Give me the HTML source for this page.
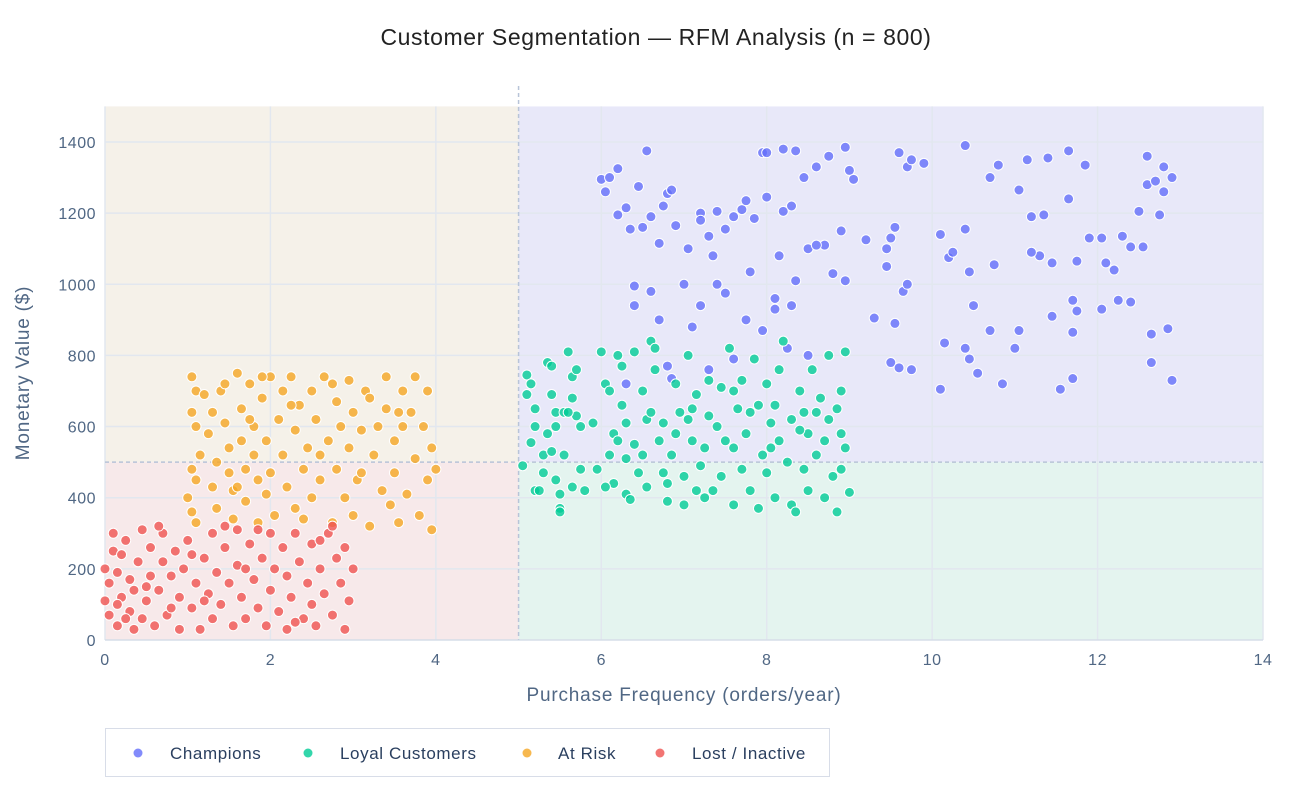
<!DOCTYPE html>
<html><head><meta charset="utf-8"><style>
body{margin:0;background:#fff;font-family:"Liberation Sans",sans-serif;}
svg text{font-family:"Liberation Sans",sans-serif;}
</style></head><body>
<svg id="chart" width="1312" height="800" xmlns="http://www.w3.org/2000/svg">
<text x="656" y="45" text-anchor="middle" font-size="23" letter-spacing="0.6" fill="#222">Customer Segmentation — RFM Analysis (n = 800)</text>
<g id="bg"></g><g id="grid"></g><g id="marks"></g><g id="axes"></g>
<text x="684" y="701" text-anchor="middle" font-size="19" letter-spacing="0.8" fill="#506784">Purchase Frequency (orders/year)</text>
<text transform="translate(29,373) rotate(-90)" text-anchor="middle" font-size="19" letter-spacing="0.8" fill="#506784">Monetary Value ($)</text>
<g>
<rect x="105.5" y="728.5" width="724" height="48" fill="#fff" stroke="#d8dde8"/>
<g><circle cx="138" cy="753" r="4.5" fill="#636efa" opacity="0.8"/><text x="170" y="759" font-size="17" letter-spacing="0.6" fill="#2a3f5f">Champions</text></g>
<g><circle cx="308" cy="753" r="4.5" fill="#00cc96" opacity="0.8"/><text x="340" y="759" font-size="17" letter-spacing="0.6" fill="#2a3f5f">Loyal Customers</text></g>
<g><circle cx="527" cy="753" r="4.5" fill="#f5a623" opacity="0.8"/><text x="558" y="759" font-size="17" letter-spacing="0.6" fill="#2a3f5f">At Risk</text></g>
<g><circle cx="660" cy="753" r="4.5" fill="#ef5350" opacity="0.8"/><text x="692" y="759" font-size="17" letter-spacing="0.6" fill="#2a3f5f">Lost / Inactive</text></g>
</g>
</svg>
<script>
const xTicks=[0,2,4,6,8,10,12,14];
const yTicks=[0,200,400,600,800,1000,1200,1400];
const champions=[[6.0,1295],[6.1,1300],[6.2,1325],[6.05,1260],[6.2,1195],[6.3,1215],[6.35,1155],[6.45,1275],[6.55,1375],[6.5,1160],[6.6,1190],[6.8,1255],[6.85,1265],[6.75,1220],[6.9,1165],[6.7,1115],[7.05,1100],[7.2,1200],[7.3,1135],[7.5,1155],[7.6,1190],[7.7,1210],[7.75,1235],[7.85,1185],[7.95,1370],[8.0,1370],[8.2,1380],[8.35,1375],[8.2,1205],[8.3,1220],[8.45,1300],[8.6,1330],[8.75,1360],[8.95,1385],[9.0,1320],[9.05,1295],[9.2,1125],[8.0,1245],[8.15,1080],[8.5,1100],[8.7,1110],[8.9,1150],[9.6,1370],[9.7,1330],[9.75,1350],[9.9,1340],[9.55,1160],[9.5,1130],[9.45,1100],[9.45,1050],[9.3,905],[9.55,890],[9.65,980],[9.7,1000],[9.5,780],[9.6,765],[9.75,760],[10.1,1140],[10.2,1075],[10.25,1090],[10.4,1390],[10.4,1155],[10.45,1035],[10.5,940],[10.15,835],[10.4,820],[10.45,790],[10.55,750],[10.1,705],[10.7,870],[10.75,1055],[10.7,1300],[10.8,1335],[10.85,720],[11.0,820],[11.05,870],[11.05,1265],[11.15,1350],[11.2,1190],[11.35,1195],[11.4,1355],[11.3,1080],[11.45,1060],[11.2,1090],[11.45,910],[11.55,705],[11.7,735],[11.7,865],[11.7,955],[11.75,925],[11.75,1065],[11.65,1375],[11.65,1240],[11.85,1335],[11.9,1130],[12.05,1130],[12.1,1060],[12.05,930],[12.2,1040],[12.25,955],[12.3,1135],[12.4,950],[12.4,1105],[12.5,1205],[12.6,1280],[12.6,1360],[12.7,1290],[12.65,860],[12.65,780],[12.8,1330],[12.8,1260],[12.75,1195],[12.85,875],[12.9,1300],[12.9,730],[12.55,1105],[6.6,980],[6.4,995],[6.4,940],[6.7,900],[7.0,1000],[7.2,940],[7.1,880],[7.35,1080],[7.4,1000],[7.5,975],[7.8,1035],[8.35,1010],[8.3,940],[8.1,960],[8.8,1030],[8.95,1010],[7.75,900],[8.25,820],[7.95,870],[8.1,930],[7.6,790],[8.5,800],[7.3,760],[6.8,770],[6.3,720],[6.85,735],[7.2,1180],[7.4,1205],[8.6,1110]];
const loyal=[[5.05,490],[5.1,690],[5.1,745],[5.15,720],[5.2,650],[5.2,600],[5.15,555],[5.2,420],[5.25,420],[5.3,520],[5.35,780],[5.4,770],[5.4,690],[5.45,640],[5.45,600],[5.35,580],[5.4,530],[5.45,450],[5.5,410],[5.5,370],[5.5,360],[5.55,640],[5.6,810],[5.65,740],[5.7,760],[5.65,680],[5.7,630],[5.75,600],[5.75,480],[5.8,420],[5.65,430],[5.55,520],[5.95,480],[6.0,810],[6.05,720],[6.1,700],[6.1,520],[6.15,580],[6.15,440],[6.2,800],[6.25,770],[6.25,660],[6.3,610],[6.3,510],[6.3,410],[6.35,395],[6.4,810],[6.4,550],[6.45,470],[6.5,700],[6.55,620],[6.55,430],[6.6,840],[6.6,640],[6.65,820],[6.65,760],[6.7,560],[6.75,470],[6.8,440],[6.8,390],[6.85,520],[6.9,720],[6.95,640],[7.0,460],[7.0,380],[7.05,800],[7.05,620],[7.1,560],[7.15,420],[7.15,690],[7.2,490],[7.25,540],[7.3,630],[7.3,730],[7.35,420],[7.4,600],[7.45,460],[7.5,560],[7.55,820],[7.6,380],[7.6,540],[7.65,650],[7.7,730],[7.7,480],[7.75,580],[7.8,420],[7.85,790],[7.9,370],[7.9,660],[7.95,520],[8.0,720],[8.0,470],[8.05,610],[8.1,400],[8.15,760],[8.15,560],[8.2,840],[8.25,500],[8.3,380],[8.3,620],[8.35,360],[8.4,700],[8.45,480],[8.5,580],[8.5,420],[8.55,760],[8.6,520],[8.65,680],[8.7,560],[8.7,400],[8.75,800],[8.75,620],[8.8,460],[8.85,360],[8.85,650],[8.9,700],[8.9,480],[8.95,540],[8.95,810],[9.0,415],[8.9,580],[8.6,640],[8.4,590],[8.1,660],[7.8,640],[7.45,710],[7.1,650],[6.75,610],[6.5,520],[6.2,560],[5.9,610],[5.3,470],[5.6,640],[6.05,430],[7.25,400],[7.6,700],[8.05,540],[8.45,640],[6.9,580]];
const atRisk=[[1.05,740],[1.1,700],[1.05,640],[1.1,600],[1.15,520],[1.05,480],[1.1,450],[1.0,400],[1.05,360],[1.1,330],[1.2,690],[1.25,580],[1.3,640],[1.3,430],[1.35,370],[1.4,700],[1.45,720],[1.45,610],[1.5,540],[1.5,470],[1.55,420],[1.55,340],[1.6,750],[1.65,650],[1.65,560],[1.7,480],[1.7,390],[1.75,720],[1.8,600],[1.8,520],[1.85,450],[1.85,330],[1.9,680],[1.95,560],[1.95,410],[2.0,740],[2.0,470],[2.05,350],[2.1,620],[2.15,700],[2.15,520],[2.2,430],[2.25,740],[2.3,590],[2.3,370],[2.35,660],[2.4,480],[2.45,540],[2.5,700],[2.5,400],[2.55,620],[2.6,450],[2.65,740],[2.7,560],[2.75,330],[2.8,670],[2.8,480],[2.85,600],[2.9,400],[2.95,730],[2.95,540],[3.0,640],[3.0,350],[3.05,450],[3.1,590],[3.15,700],[3.2,320],[3.25,520],[3.3,600],[3.35,420],[3.4,740],[3.4,650],[3.45,380],[3.5,560],[3.5,470],[3.55,330],[3.6,700],[3.6,600],[3.65,410],[3.7,640],[3.75,740],[3.75,510],[3.8,350],[3.85,600],[3.9,700],[3.9,450],[3.95,310],[3.95,540],[4.0,480],[2.6,520],[2.25,660],[1.75,620],[1.35,500],[3.2,680],[2.75,720],[3.1,470],[1.9,740],[2.4,340],[3.55,640],[1.6,430]];
const lost=[[0.0,200],[0.0,110],[0.05,70],[0.05,160],[0.1,250],[0.1,300],[0.15,40],[0.15,190],[0.2,120],[0.2,240],[0.25,280],[0.3,80],[0.3,170],[0.35,30],[0.35,140],[0.4,220],[0.45,310],[0.45,60],[0.5,110],[0.55,260],[0.55,180],[0.6,40],[0.65,140],[0.7,300],[0.7,220],[0.75,70],[0.8,180],[0.85,250],[0.9,30],[0.9,120],[0.95,200],[1.0,280],[1.05,90],[1.1,160],[1.15,30],[1.2,230],[1.25,130],[1.3,300],[1.3,60],[1.35,190],[1.4,100],[1.45,260],[1.5,160],[1.55,40],[1.6,310],[1.6,210],[1.65,120],[1.7,60],[1.75,270],[1.8,170],[1.85,90],[1.9,230],[1.95,40],[2.0,300],[2.0,140],[2.05,200],[2.1,80],[2.15,260],[2.2,30],[2.2,180],[2.25,120],[2.3,300],[2.35,220],[2.4,60],[2.45,160],[2.5,270],[2.5,100],[2.55,40],[2.6,200],[2.65,130],[2.7,300],[2.75,70],[2.8,230],[2.85,160],[2.9,30],[2.9,260],[2.95,110],[3.0,200],[0.25,60],[0.65,320],[1.05,240],[1.45,320],[1.85,310],[2.3,50],[2.75,320],[0.15,100],[0.8,90],[1.2,110],[1.7,200],[2.6,280],[0.5,150]];
const xThreshold=5, yThreshold=500, xMax=14, yMax=1500;

const NS="http://www.w3.org/2000/svg";
const L=105,R=1263,B=640,T=106.4;
const sx=v=>L+(v/xMax)*(R-L);
const sy=v=>B-(v/yMax)*(B-T);
function mk(tag,attrs,parent){const e=document.createElementNS(NS,tag);for(const k in attrs)e.setAttribute(k,attrs[k]);parent.appendChild(e);return e;}
const bg=document.getElementById('bg'),grid=document.getElementById('grid'),marks=document.getElementById('marks'),axes=document.getElementById('axes');
const regions=[[0,xThreshold,yThreshold,yMax,'#f5f1e9','region-at-risk'],[0,xThreshold,0,yThreshold,'#f7e9ea','region-lost'],[xThreshold,xMax,yThreshold,yMax,'#e8e8f9','region-champions'],[xThreshold,xMax,0,yThreshold,'#e4f4ef','region-loyal']];
regions.forEach(r=>{const e=mk('rect',{x:sx(r[0]),y:sy(r[3]),width:sx(r[1])-sx(r[0]),height:sy(r[2])-sy(r[3]),fill:r[4]},bg);

});
xTicks.forEach(t=>{const g=mk('line',{x1:sx(t),x2:sx(t),y1:T,y2:B,stroke:'#e2e7ef','stroke-width':1.5},grid);


const tx=mk('text',{x:sx(t),y:B+25,'text-anchor':'middle','font-size':16,'letter-spacing':0.5,fill:'#506784'},axes);tx.textContent=t;

});
yTicks.forEach(t=>{const g=mk('line',{x1:L,x2:R,y1:sy(t),y2:sy(t),stroke:'#e2e7ef','stroke-width':1.5},grid);


const tx=mk('text',{x:L-9,y:sy(t)+6,'text-anchor':'end','font-size':16,'letter-spacing':0.5,fill:'#506784'},axes);tx.textContent=t;

});
const vl=mk('line',{x1:sx(xThreshold),x2:sx(xThreshold),y1:86,y2:B,stroke:'#b8c4d8','stroke-width':1.5,'stroke-dasharray':'4,3'},grid);


const hl=mk('line',{x1:L,x2:R,y1:sy(yThreshold),y2:sy(yThreshold),stroke:'#b8c4d8','stroke-width':1.5,'stroke-dasharray':'4,3'},grid);


const xa=mk('line',{x1:L,x2:R,y1:B,y2:B,stroke:'#d0d8e4','stroke-width':1},axes);


const series=[[champions,'#636efa','champion-point'],[loyal,'#00cc96','loyal-point'],[atRisk,'#f5a623','at-risk-point'],[lost,'#ef5350','lost-point']];
series.forEach(s=>s[0].forEach(p=>{const c=mk('circle',{cx:sx(p[0]),cy:sy(p[1]),r:5,fill:s[1],'fill-opacity':0.8,stroke:'#fff','stroke-width':1},marks);

}));
</script>
</body></html>
